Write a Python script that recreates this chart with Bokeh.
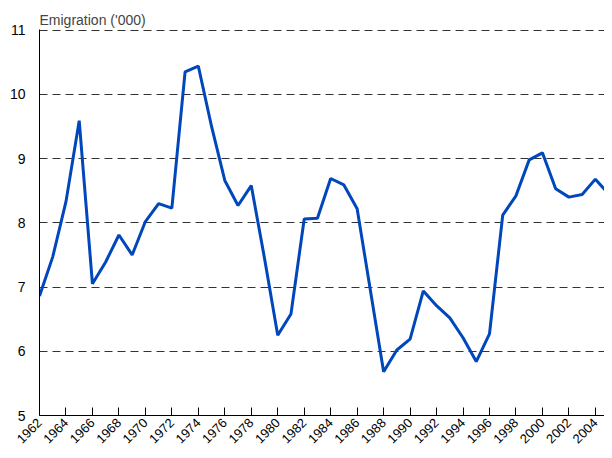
from bokeh.plotting import figure
from bokeh.models import FixedTicker
from bokeh.embed import file_html
from bokeh.resources import INLINE
import math

years = list(range(1962, 2006))
emigration = [6.86, 7.47, 8.33, 9.59, 7.05, 7.39, 7.81, 7.50, 8.02, 8.30,
              8.23, 10.35, 10.44, 9.50, 8.66, 8.27, 8.58, 7.45, 6.25, 6.58,
              8.06, 8.07, 8.69, 8.59, 8.22, 6.95, 5.68, 6.02, 6.19, 6.94,
              6.71, 6.52, 6.21, 5.84, 6.27, 8.12, 8.42, 8.98, 9.09, 8.53,
              8.40, 8.44, 8.68, 8.45]
x_ticks = list(range(1962, 2005, 2))
y_ticks = [5, 6, 7, 8, 9, 10, 11]

FONT = "Liberation Sans"

p = figure(width=604, height=450, output_backend="svg", toolbar_location=None,
           x_range=(1962, 2004.69), y_range=(5, 11.01),
           min_border_left=39, min_border_right=0, min_border_top=23, min_border_bottom=0)
p.title.text = "Emigration ('000)"
p.title.text_font = FONT
p.title.text_font_size = "14px"
p.title.text_font_style = "normal"
p.title.align = "left"
p.title.offset = 0
p.title.standoff = 4
p.title.padding = (0, 0, 7, 0)
p.outline_line_color = None
p.background_fill_color = "white"

p.line(years, emigration, line_color="#0047BB", line_width=3)

p.xgrid.visible = False
p.ygrid.ticker = FixedTicker(ticks=y_ticks)
p.ygrid.grid_line_color = "#333333"
p.ygrid.grid_line_dash = "8 5"
p.ygrid.grid_line_width = 1

p.xaxis.ticker = FixedTicker(ticks=x_ticks)
p.xaxis.major_tick_in = 8
p.xaxis.major_tick_out = 0
p.xaxis.minor_tick_line_color = None
p.xaxis.axis_line_color = "black"
p.xaxis.major_tick_line_color = "black"
p.xaxis.major_label_orientation = math.pi / 4
p.xaxis.major_label_text_font = FONT
p.xaxis.major_label_text_font_size = "13px"
p.xaxis.major_label_text_color = "black"
p.xaxis.major_label_standoff = 5

p.yaxis.ticker = FixedTicker(ticks=y_ticks)
p.yaxis.major_tick_in = 0
p.yaxis.major_tick_out = 0
p.yaxis.minor_tick_line_color = None
p.yaxis.axis_line_color = "black"
p.yaxis.major_label_text_font = FONT
p.yaxis.major_label_text_font_size = "14px"
p.yaxis.major_label_text_color = "black"
p.yaxis.major_label_standoff = 14

open("out.html", "w").write(file_html(p, INLINE))
